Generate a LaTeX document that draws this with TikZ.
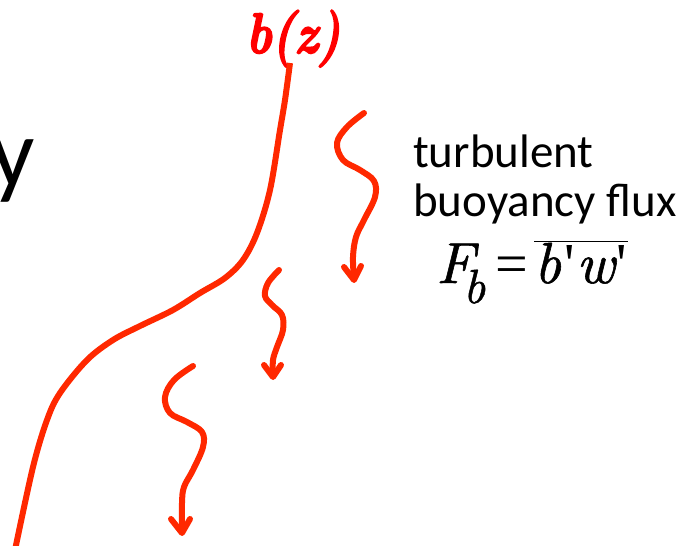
\documentclass[tikz,border=0pt]{standalone}
\usepackage{fontspec}
\newfontfamily\lser{Liberation Serif}
\newfontfamily\calib{Carlito}
\newfontfamily\bzfont{lmroman10-bolditalic.otf}[FakeBold=3]
\newfontfamily\eqit{lmroman10-italic.otf}[FakeBold=1]
\definecolor{curvered}{RGB}{255,40,0}
\definecolor{labelred}{RGB}{255,0,0}
\tikzset{
  curve/.style={draw=curvered, line width=6pt, line join=round},
  wiggle/.style={curve, line cap=round},
  head/.style={curve, line cap=round},
  sanslabel/.style={font=\calib\fontsize{47}{47}\selectfont, inner sep=0pt, anchor=base west},
  eq/.style={font=\eqit\fontsize{58}{58}\selectfont, inner sep=0pt, anchor=base west}
}
\begin{document}
\begin{tikzpicture}[x=1pt,y=-1pt]
\useasboundingbox (0,0) rectangle (694,546);
\clip (0,0) rectangle (694,546);
% cut-off big letter
\node[font=\calib\fontsize{98}{98}\selectfont, inner sep=0pt, anchor=base east] (yy) at (35,186) {y};
% profile label
\node[font=\bzfont\fontsize{57}{57}\selectfont, text=labelred, inner sep=0pt, anchor=base west] (bz) at (246,53) {\scalebox{0.84}[1]{b(z)}};
% profile curve
\draw[curve, line cap=butt] plot[smooth, tension=0.55] coordinates {
 (290,63) (285,100) (280,130) (270,190) (257,233) (243,260) (225,278) (200,293)
 (173,310) (140,326) (113,340) (87,360) (60,393) (47,420) (33,467) (15,550)};
% arrow 1
\draw[wiggle] plot[smooth, tension=0.6] coordinates {
 (364,113) (347,127) (337,143) (343,160) (360,170) (374,181) (375,197)
 (364,220) (356,237) (353,257) (354,279)};
\draw[head] (344,267) -- (354,280) -- (361,266);
% arrow 2
\draw[wiggle] plot[smooth, tension=0.6] coordinates {
 (279,270) (268,283) (265,296) (272,305) (282,315) (283,330) (277,347)
 (273,360) (273,376)};
\draw[head] (264,365) -- (273,377) -- (281,365);
% arrow 3
\draw[wiggle] plot[smooth, tension=0.6] coordinates {
 (193,366) (174,380) (165,397) (170,413) (187,422) (202,432) (203,447)
 (193,470) (184,487) (182,503) (182,532)};
\draw[head] (171,519) -- (182,533) -- (190,519);
% labels
\node[sanslabel] (t1) at (413,167) {turbulent};
\node[sanslabel] (t2) at (413,216) {buoyancy flux};
\node[eq] (F) at (436,283) {F};
\node[font=\eqit\fontsize{48}{48}\selectfont, inner sep=0pt, anchor=base west] (Fs) at (463,303) {b};
\node[eq] (eqs) at (495,283) {\lser =};
\node[eq] (bw) at (534,283) {$\overline{\hbox{b\kern4pt{\lser '}\kern1pt w\kern2pt{\lser '}\kern1pt}}$};
\end{tikzpicture}
\end{document}
